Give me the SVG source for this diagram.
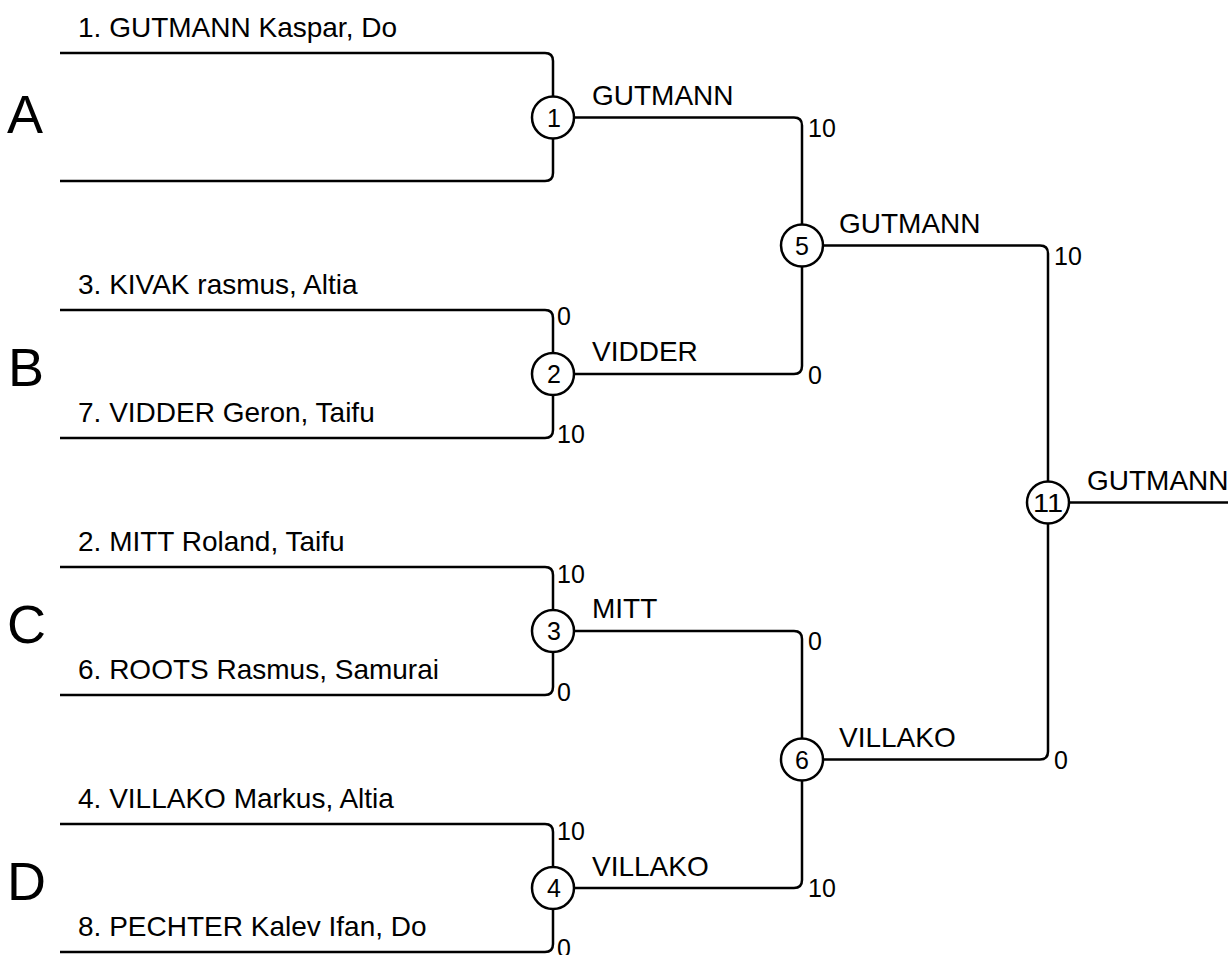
<svg xmlns="http://www.w3.org/2000/svg" width="1228" height="955" viewBox="0 0 1228 955">
<style>
.ln{fill:none;stroke:#000;stroke-width:2.5;stroke-linecap:butt}
.nd{fill:#fff;stroke:#000;stroke-width:2.5}
text{font-family:"Liberation Sans",Arial,sans-serif;fill:#000}
.nm{font-size:28px}
.sc{font-size:25px}
.cn{font-size:25px;text-anchor:middle}
.pool{font-size:54px}
</style>
<rect width="1228" height="955" fill="#fff"/>
<g id="connectors">
<path class="ln" d="M60,53 H545 Q553,53 553,61 V97"/>
<path class="ln" d="M60,181 H545 Q553,181 553,173 V138"/>
<path class="ln" d="M60,310 H545 Q553,310 553,318 V353"/>
<path class="ln" d="M60,438 H545 Q553,438 553,430 V395"/>
<path class="ln" d="M60,567 H545 Q553,567 553,575 V610"/>
<path class="ln" d="M60,695 H545 Q553,695 553,687 V652"/>
<path class="ln" d="M60,824 H545 Q553,824 553,832 V867"/>
<path class="ln" d="M60,952 H545 Q553,952 553,944 V909"/>
<path class="ln" d="M574,117.5 H794 Q802,117.5 802,125.5 V224.5"/>
<path class="ln" d="M574,374 H794 Q802,374 802,366 V266.5"/>
<path class="ln" d="M574,631 H794 Q802,631 802,639 V738.5"/>
<path class="ln" d="M574,888 H794 Q802,888 802,880 V780.5"/>
<path class="ln" d="M823,245.5 H1040 Q1048,245.5 1048,253.5 V481.5"/>
<path class="ln" d="M823,759.5 H1040 Q1048,759.5 1048,751.5 V523.5"/>
<path class="ln" d="M1069,502.5 H1228"/>
</g>
<g id="pools">
<text class="pool" x="7" y="133">A</text>
<text class="pool" x="8" y="386">B</text>
<text class="pool" x="7" y="643">C</text>
<text class="pool" x="7" y="900">D</text>
</g>
<g id="players">
<text class="nm" x="78" y="37">1. GUTMANN Kaspar, Do</text>
<text class="nm" x="78" y="294">3. KIVAK rasmus, Altia</text>
<text class="nm" x="78" y="422">7. VIDDER Geron, Taifu</text>
<text class="nm" x="78" y="551">2. MITT Roland, Taifu</text>
<text class="nm" x="78" y="679">6. ROOTS Rasmus, Samurai</text>
<text class="nm" x="78" y="808">4. VILLAKO Markus, Altia</text>
<text class="nm" x="78" y="936">8. PECHTER Kalev Ifan, Do</text>
</g>
<g id="node1"><circle class="nd" cx="553" cy="117.5" r="21"/><text class="cn" x="554" y="127">1</text></g>
<g id="node2"><circle class="nd" cx="553" cy="374" r="21"/><text class="cn" x="554" y="383">2</text></g>
<g id="node3"><circle class="nd" cx="553" cy="631" r="21"/><text class="cn" x="554" y="640">3</text></g>
<g id="node4"><circle class="nd" cx="553" cy="888" r="21"/><text class="cn" x="554" y="897">4</text></g>
<g id="node5"><circle class="nd" cx="802" cy="245.5" r="21"/><text class="cn" x="802" y="255">5</text></g>
<g id="node6"><circle class="nd" cx="802" cy="759.5" r="21"/><text class="cn" x="802" y="769">6</text></g>
<g id="node11"><circle class="nd" cx="1048" cy="502.5" r="21"/><text class="cn" x="1048" y="512" textLength="30" lengthAdjust="spacingAndGlyphs">11</text></g>
<g id="winners">
<text class="nm" x="592" y="105">GUTMANN</text>
<text class="nm" x="592" y="361">VIDDER</text>
<text class="nm" x="592" y="618">MITT</text>
<text class="nm" x="592" y="876">VILLAKO</text>
<text class="nm" x="839" y="233">GUTMANN</text>
<text class="nm" x="839" y="747">VILLAKO</text>
<text class="nm" x="1087" y="490">GUTMANN</text>
</g>
<g id="scores">
<text class="sc" x="557" y="325">0</text>
<text class="sc" x="557" y="443">10</text>
<text class="sc" x="557" y="583">10</text>
<text class="sc" x="557" y="701">0</text>
<text class="sc" x="557" y="840">10</text>
<text class="sc" x="557" y="957">0</text>
<text class="sc" x="808" y="137">10</text>
<text class="sc" x="808" y="384">0</text>
<text class="sc" x="808" y="650">0</text>
<text class="sc" x="808" y="897">10</text>
<text class="sc" x="1054" y="265">10</text>
<text class="sc" x="1054" y="769">0</text>
</g>
</svg>
